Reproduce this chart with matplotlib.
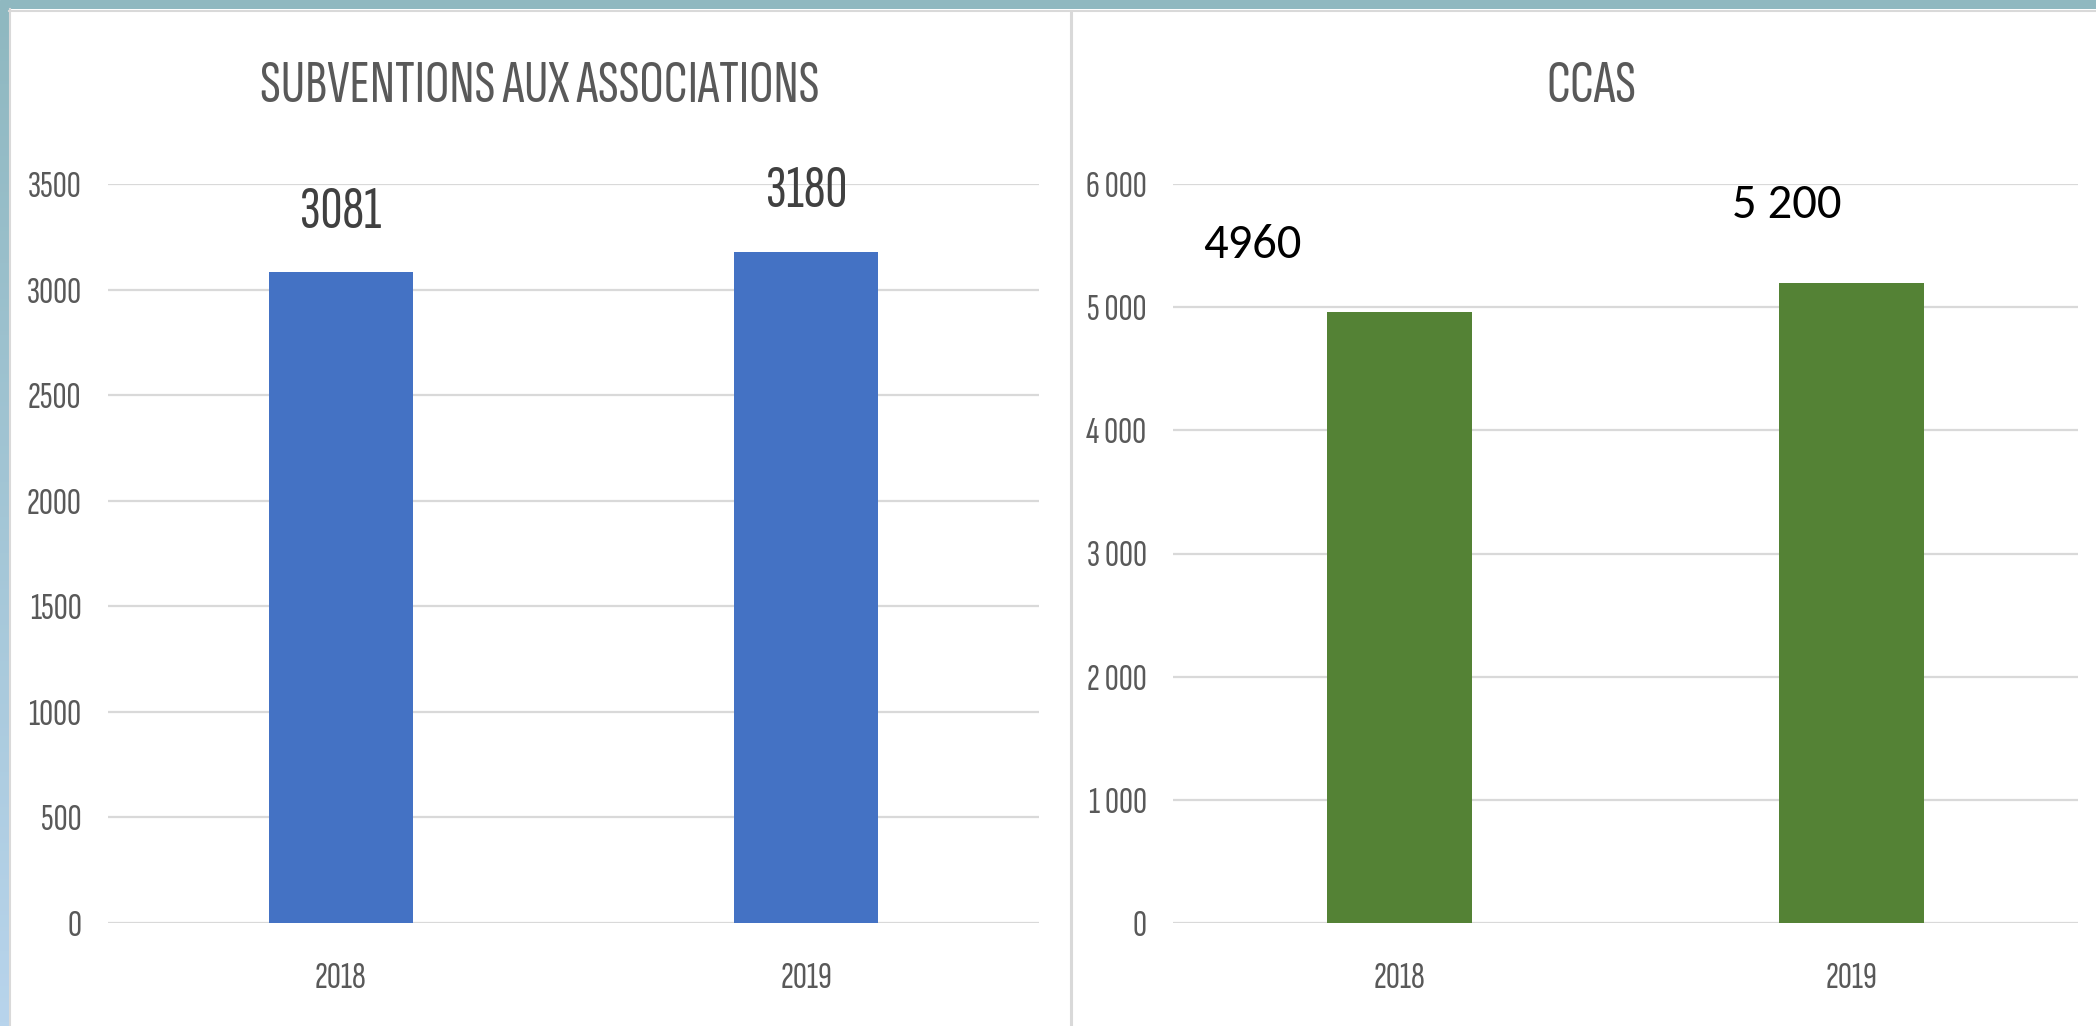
import numpy as np
import matplotlib
matplotlib.use("Agg")
import matplotlib.pyplot as plt
from matplotlib import font_manager as fm

# ---- data ----
years = ["2018", "2019"]
subventions = [3081, 3180]
subventions_labels = ["3081", "3180"]
ccas = [4960, 5200]
ccas_labels = ["4960", "5 200"]
left_title = "SUBVENTIONS AUX ASSOCIATIONS"
right_title = "CCAS"
left_ticks = [0, 500, 1000, 1500, 2000, 2500, 3000, 3500]
right_ticks = [0, 1000, 2000, 3000, 4000, 5000, 6000]
right_tick_labels = ["0", "1 000", "2 000", "3 000", "4 000", "5 000", "6 000"]

installed = {f.name for f in fm.fontManager.ttflist}
NARROW = ["Sofia Sans Extra Condensed", "DejaVu Sans"]
if "Carlito" in installed:
    REG = ["Carlito", "DejaVu Sans"]
    REG_SIZE = 35
else:
    REG = ["Liberation Sans", "DejaVu Sans"]
    REG_SIZE = 31

W, H = 2096, 1026
fig = plt.figure(figsize=(W / 100, H / 100), dpi=100)
fig.patch.set_facecolor("white")

GRID = "#d9d9d9"
TXT = "#595959"

# frame decoration: top teal band and left gradient band
top = fig.add_axes([0, 1 - 9 / H, 1, 9 / H])
top.set_axis_off()
top.add_patch(plt.Rectangle((0, 0), 1, 1, color="#8fb8c0", transform=top.transAxes))
leftband = fig.add_axes([0, 0, 9 / W, 1 - 9 / H])
leftband.set_axis_off()
grad = np.linspace(0, 1, 256).reshape(-1, 1)
c_top = np.array([0x8f, 0xb8, 0xc0]) / 255
c_bot = np.array([0xb8, 0xd4, 0xec]) / 255
img = c_top[None, None, :] * (1 - grad[:, :, None]) + c_bot[None, None, :] * grad[:, :, None]
leftband.imshow(img, aspect="auto", extent=[0, 1, 0, 1])
fig.add_artist(plt.Line2D([9.5 / W, 9.5 / W], [0, 1 - 9 / H], color=GRID, lw=1.5))
fig.add_artist(plt.Line2D([9 / W, 1], [1 - 10.5 / H, 1 - 10.5 / H], color=GRID, lw=1.5))
# divider between panels
fig.add_artist(plt.Line2D([1071 / W, 1071 / W], [0, 1 - 11 / H], color=GRID, lw=2.2))

TICK_SIZE = 28


def style(ax, ymax, ticks, ticklabels):
    ax.set_ylim(0, ymax)
    ax.set_xlim(-0.5, 1.5)
    ax.set_yticks(ticks)
    ax.set_yticklabels(ticklabels, family=NARROW, fontsize=TICK_SIZE, color=TXT, weight="light")
    ax.set_xticks([0, 1])
    ax.set_xticklabels(years, family=NARROW, fontsize=TICK_SIZE, color=TXT, weight="light")
    ax.tick_params(axis="y", length=0, pad=19)
    ax.tick_params(axis="x", length=0, pad=28)
    for s in ax.spines.values():
        s.set_visible(False)
    ax.grid(axis="y", color=GRID, lw=1.6)
    ax.set_axisbelow(True)


axL = fig.add_axes([108 / W, 1 - 923 / H, 931 / W, 739 / H])
style(axL, 3500, left_ticks, [str(t) for t in left_ticks])
axL.bar([0, 1], subventions, width=0.31, color="#4472c4", zorder=3)
for i, (v, lab) in enumerate(zip(subventions, subventions_labels)):
    axL.annotate(lab, (i, v), xytext=(0, 60), textcoords="offset pixels",
                 ha="center", va="center", family=NARROW, fontsize=44,
                 color="#404040", weight="light")
fig.text(540 / W, 1 - 87 / H, left_title, ha="center", va="center",
         family=NARROW, fontsize=44, color=TXT, weight="light")

axR = fig.add_axes([1173 / W, 1 - 923 / H, 905 / W, 739 / H])
style(axR, 6000, right_ticks, right_tick_labels)
axR.bar([0, 1], ccas, width=0.32, color="#548235", zorder=3)
offs = [(-147, 67), (-65, 78)]
for i, (v, lab) in enumerate(zip(ccas, ccas_labels)):
    axR.annotate(lab, (i, v), xytext=offs[i], textcoords="offset pixels",
                 ha="center", va="center", family=REG,
                 fontsize=REG_SIZE, color="black")
fig.text(1591 / W, 1 - 87 / H, right_title, ha="center", va="center",
         family=NARROW, fontsize=44, color=TXT, weight="light")

fig.savefig("out.png", dpi=100)
